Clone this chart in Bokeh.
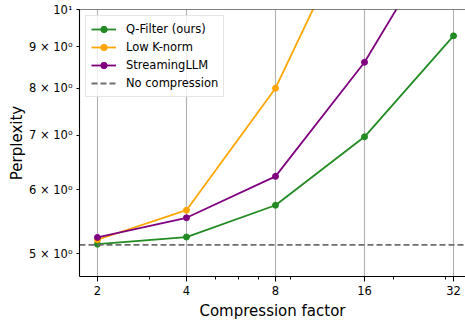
from bokeh.plotting import figure
from bokeh.models import Range1d, FixedTicker, Span
from bokeh.embed import file_html
from bokeh.resources import INLINE

# ---- data ----
compression = [2, 4, 8, 16, 32]
qfilter = [5.14, 5.245, 5.74, 6.97, 9.28]
knorm_x = [2, 4, 8, 16]
knorm = [5.205, 5.66, 8.0, 13.6]
streaming_x = [2, 4, 8, 16, 32]
streaming = [5.24, 5.54, 6.23, 8.61, 13.1]
no_compression = 5.13

x_ticks = [2, 4, 8, 16, 32]
x_minor_ticks = [3, 5, 6, 7, 9, 20, 30]
y_ticks = [5, 6, 7, 8, 9, 10]
y_tick_labels = ["5 × 10⁰", "6 × 10⁰", "7 × 10⁰", "8 × 10⁰", "9 × 10⁰", "10¹"]

x_lo, x_hi = 1.739, 35.13
y_lo, y_hi = 4.69, 10.0

FONT = "DejaVu Sans"

p = figure(width=465, height=322, x_axis_type="log", y_axis_type="log",
           x_range=Range1d(x_lo, x_hi), y_range=Range1d(y_lo, y_hi),
           output_backend="svg", toolbar_location=None,
           min_border_left=79, min_border_top=9, min_border_right=0,
           min_border_bottom=44)
p.outline_line_color = None
p.background_fill_color = "white"
p.border_fill_color = "white"

# top spine
p.add_layout(Span(location=y_hi, dimension="width", line_color="black", line_width=1.1))

# axes
p.xaxis.ticker = FixedTicker(ticks=x_ticks, minor_ticks=x_minor_ticks)
p.xaxis.major_label_overrides = {t: str(t) for t in x_ticks}
p.yaxis.ticker = FixedTicker(ticks=y_ticks, minor_ticks=[])
p.yaxis.major_label_overrides = {t: l for t, l in zip(y_ticks, y_tick_labels)}

p.xaxis.axis_label = "Compression factor"
p.yaxis.axis_label = "Perplexity"
for ax in (p.xaxis, p.yaxis):
    ax.axis_label_text_font = FONT
    ax.axis_label_text_font_size = "15px"
    ax.axis_label_text_font_style = "normal"
    ax.axis_label_text_color = "black"
    ax.major_label_text_font = FONT
    ax.major_label_text_font_size = "11.5px"
    ax.major_label_text_color = "black"
    ax.axis_line_color = "black"
    ax.axis_line_width = 1.1
    ax.major_tick_in = 0
    ax.minor_tick_in = 0
    ax.major_tick_line_color = "black"
    ax.minor_tick_line_color = "black"
    ax.major_label_standoff = 4
p.xaxis.major_tick_out = 5
p.xaxis.minor_tick_out = 3
p.yaxis.major_tick_out = 3
p.xaxis.axis_label_standoff = 4
p.yaxis.axis_label_standoff = 0

p.ygrid.grid_line_color = None
p.xgrid.ticker = FixedTicker(ticks=x_ticks)
p.xgrid.grid_line_color = "#b0b0b0"
p.xgrid.grid_line_width = 1.1

LW = 1.8
MS = 6
series = [
    (compression, qfilter, "forestgreen", "Q-Filter (ours)"),
    (knorm_x, knorm, "orange", "Low K-norm"),
    (streaming_x, streaming, "purple", "StreamingLLM"),
]
for xs, ys, col, lab in series:
    p.line(xs, ys, line_color=col, line_width=LW, legend_label=lab)
    p.scatter(xs, ys, size=MS, fill_color=col, line_color=col, legend_label=lab)

p.line([x_lo, x_hi], [no_compression, no_compression], line_color="#6e6e6e",
       line_width=1.8, line_dash="6 3", legend_label="No compression")

lg = p.legend[0]
lg.location = "top_left"
lg.margin = 6
lg.padding = 5
lg.spacing = 2
lg.glyph_width = 25
lg.glyph_height = 16
lg.label_height = 16
lg.label_standoff = 10
lg.label_text_font = FONT
lg.label_text_font_size = "11.5px"
lg.label_text_color = "black"
lg.border_line_color = "#cccccc"
lg.border_line_width = 1
lg.background_fill_color = "white"
lg.background_fill_alpha = 0.8

open("out.html", "w").write(file_html(p, INLINE))
